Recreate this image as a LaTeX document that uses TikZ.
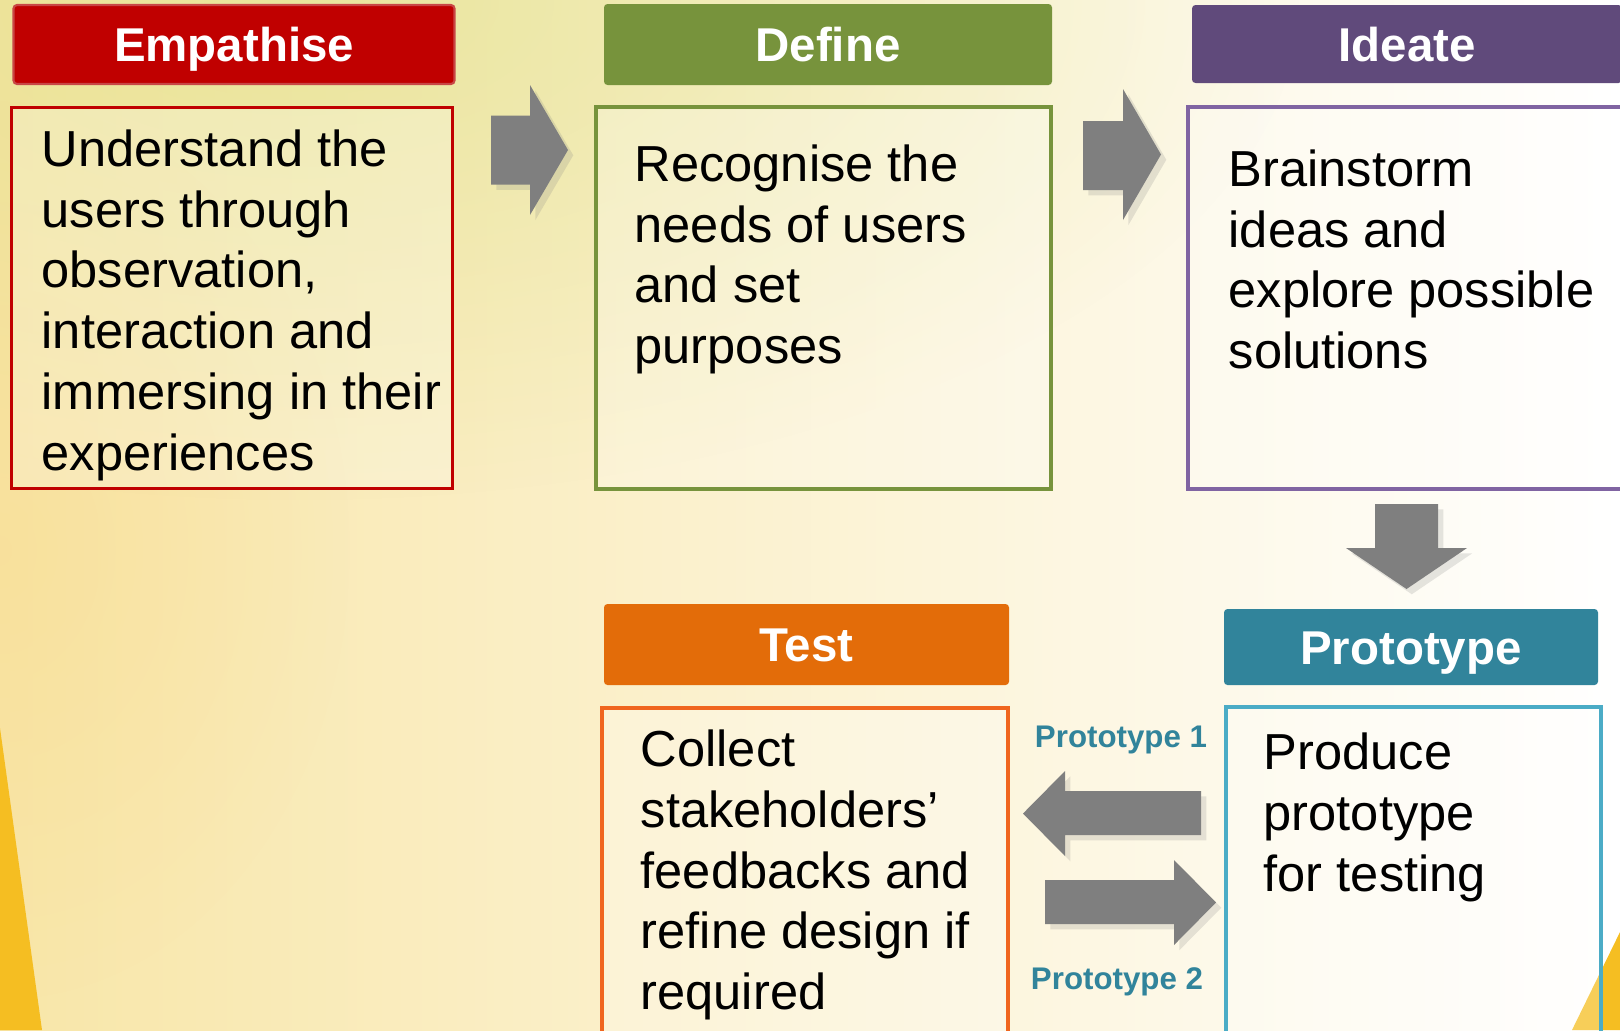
\documentclass[tikz,border=0pt]{standalone}
\usepackage{fontspec}
\setmainfont{Liberation Sans}
\usetikzlibrary{shadows,fadings}

\definecolor{empred}{HTML}{C00000}
\definecolor{empedge}{HTML}{C84646}
\definecolor{defgreen}{HTML}{77933C}
\definecolor{idepurple}{HTML}{604A7B}
\definecolor{ideedge}{HTML}{8064A2}
\definecolor{testorange}{HTML}{E36C09}
\definecolor{testedge}{HTML}{F0651E}
\definecolor{protoblue}{HTML}{31849B}
\definecolor{protoedge}{HTML}{4BACC6}
\definecolor{arrowgray}{HTML}{7F7F7F}
\definecolor{bgleft}{HTML}{F8E6A8}
\definecolor{bgmid}{HTML}{FBF9E4}
\definecolor{bggreen}{HTML}{DADF80}
\definecolor{bgpeach}{HTML}{FAD98A}
\definecolor{sungold}{HTML}{F5BE22}

\tikzfading[name=softglow, inner color=transparent!0, outer color=transparent!100]

\begin{document}
\begin{tikzpicture}[y=-1cm,
    head/.style={inner sep=0pt, text=white, rounded corners=1pt, text height=0.34cm, text depth=0pt, font=\bfseries\fontsize{13.5}{16}\selectfont},
    box/.style={draw, line width=0.9pt, inner sep=0pt, fill=white, fill opacity=0.25},
    body/.style={anchor=north west, align=left, inner sep=0pt, font=\fontsize{14.4}{17.3}\selectfont},
    blockarrow/.style={fill=arrowgray, drop shadow={shadow xshift=1.5pt, shadow yshift=-1.5pt, opacity=0.2}},
    protolabel/.style={text=protoblue, font=\bfseries\fontsize{8.9}{10}\selectfont}]

    \clip (0,0) rectangle (16.2,10.3);

    % Background
    \shade[left color=bgleft, middle color=bgmid, right color=white] (0,0) rectangle (16.2,10.3);
    \fill[bggreen, opacity=0.5, path fading=softglow] (3,0) ellipse (10 and 5);
    \fill[bgpeach, opacity=0.4, path fading=softglow] (0,5.5) ellipse (3.5 and 4.5);
    \fill[sungold] (0,7.28) -- (0.42,10.3) -- (0,10.3) -- cycle;
    \fill[sungold] (15.72,10.3) -- (16.2,9.32) -- (16.2,10.3) -- cycle;

    % Headers
    \node[head, fill=empred, draw=empedge, line width=0.6pt, minimum width=4.41cm, minimum height=0.79cm] (empHead) at (2.34,0.445) {Empathise};
    \node[head, fill=defgreen, minimum width=4.48cm, minimum height=0.81cm] (defHead) at (8.28,0.445) {Define};
    \node[head, fill=idepurple, minimum width=4.30cm, minimum height=0.78cm] (ideHead) at (14.07,0.44) {Ideate};
    \node[head, fill=testorange, minimum width=4.05cm, minimum height=0.81cm] (testHead) at (8.065,6.445) {Test};
    \node[head, fill=protoblue, minimum width=3.74cm, minimum height=0.76cm] (protoHead) at (14.11,6.47) {Prototype};

    % Boxes
    \node[box, draw=empred, minimum width=4.41cm, minimum height=3.81cm] (empBox) at (2.32,2.98) {};
    \node[box, draw=defgreen, minimum width=4.55cm, minimum height=3.82cm] (defBox) at (8.235,2.98) {};
    \node[box, draw=ideedge, minimum width=4.62cm, minimum height=3.82cm] (ideBox) at (14.19,2.98) {};
    \node[box, draw=testedge, minimum width=4.06cm, minimum height=3.42cm] (testBox) at (8.05,8.79) {};
    \node[box, draw=protoedge, minimum width=3.75cm, minimum height=3.43cm] (protoBox) at (14.135,8.785) {};

    % Texts
    \node[body] (empText) at (0.41,1.29) {Understand the\\users through\\observation,\\interaction and\\immersing in their\\experiences};
    \node[body] (defText) at (6.34,1.44) {Recognise the\\needs of users\\and set\\purposes};
    \node[body] (ideText) at (12.28,1.49) {Brainstorm\\ideas and\\explore possible\\solutions};
    \node[body] (testText) at (6.40,7.29) {Collect\\stakeholders’\\feedbacks and\\refine design if\\required};
    \node[body] (protoText) at (12.63,7.32) {Produce\\prototype\\for testing};

    % Arrows
    \fill[blockarrow] (4.91,1.155) -- (5.30,1.155) -- (5.30,0.85) -- (5.68,1.50) -- (5.30,2.15) -- (5.30,1.845) -- (4.91,1.845) -- cycle;
    \fill[blockarrow] (10.83,1.21) -- (11.23,1.21) -- (11.23,0.89) -- (11.61,1.545) -- (11.23,2.20) -- (11.23,1.90) -- (10.83,1.90) -- cycle;
    \fill[blockarrow] (13.75,5.04) -- (14.38,5.04) -- (14.38,5.48) -- (14.67,5.48) -- (14.065,5.89) -- (13.46,5.48) -- (13.75,5.48) -- cycle;
    \fill[blockarrow] (12.01,7.91) -- (10.65,7.91) -- (10.65,7.71) -- (10.23,8.135) -- (10.65,8.56) -- (10.65,8.35) -- (12.01,8.35) -- cycle;
    \fill[blockarrow] (10.45,8.80) -- (11.74,8.80) -- (11.74,8.60) -- (12.16,9.025) -- (11.74,9.45) -- (11.74,9.24) -- (10.45,9.24) -- cycle;

    % Labels
    \node[protolabel] (protoOne) at (11.21,7.40) {Prototype 1};
    \node[protolabel] (protoTwo) at (11.17,9.82) {Prototype 2};

\end{tikzpicture}
\end{document}
